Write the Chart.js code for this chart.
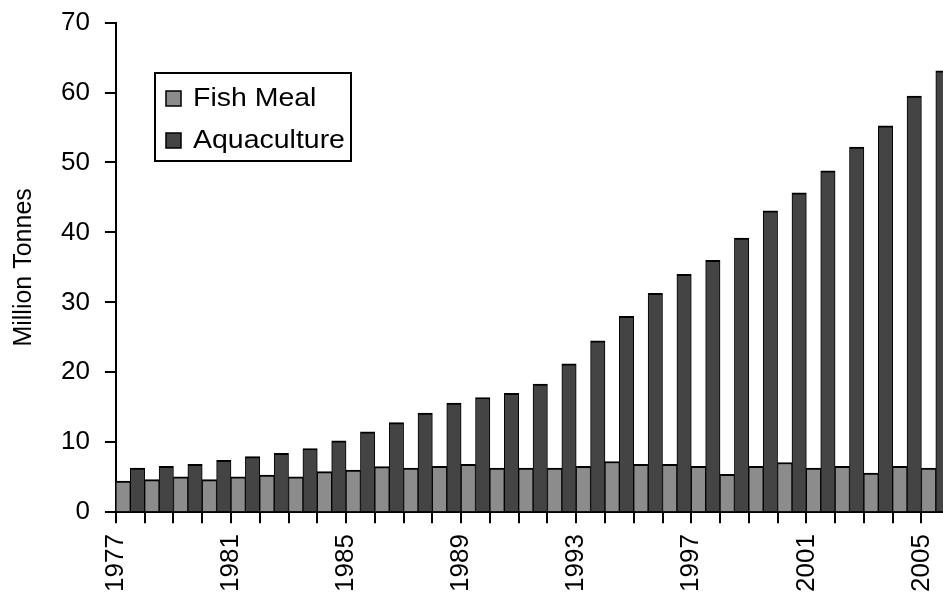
<!DOCTYPE html>
<html>
<head>
<meta charset="utf-8">
<script src="https://cdn.jsdelivr.net/npm/chart.js@4.4.1/dist/chart.umd.min.js"></script>
<style>
  html, body { margin: 0; padding: 0; background: #fff; overflow: hidden; }
  #wrap { width: 978px; height: 615px; margin-top: -8px; }
</style>
</head>
<body>
<div id="wrap"><canvas id="chart" width="978" height="615"></canvas></div>
<script>
var years = ['1977', '1978', '1979', '1980', '1981', '1982', '1983', '1984', '1985', '1986',
  '1987', '1988', '1989', '1990', '1991', '1992', '1993', '1994', '1995', '1996',
  '1997', '1998', '1999', '2000', '2001', '2002', '2003', '2004', '2005'];
var fishMeal = [4.45, 4.65, 5.05, 4.65, 5.05, 5.3, 5.05, 5.8, 6.0, 6.5,
  6.3, 6.55, 6.85, 6.3, 6.3, 6.3, 6.55, 7.25, 6.85, 6.85,
  6.55, 5.4, 6.55, 7.1, 6.3, 6.55, 5.6, 6.55, 6.3];
var aquaculture = [6.3, 6.55, 6.85, 7.4, 7.95, 8.4, 9.1, 10.2, 11.5, 12.8,
  14.15, 15.6, 16.4, 17.0, 18.3, 21.2, 24.5, 28.0, 31.3, 34.0,
  36.0, 39.2, 43.1, 45.65, 48.8, 52.2, 55.25, 59.5, 63.1];
var yMax = 70;
var yStep = 10;

var light = '#8c8c8c';
var dark = '#444444';
var fontFam = '"Liberation Sans", Arial, sans-serif';

// legend drawn as a boxed panel inside the plot, like the original
// (canvas sits 8px higher than the page, hence the +8)
var boxLegend = {
  id: 'boxLegend',
  afterDraw: function(chart) {
    var ctx = chart.ctx;
    var x0 = 155, y0 = 73 + 8, w = 196, h = 88;
    ctx.save();
    ctx.fillStyle = '#fff';
    ctx.fillRect(x0, y0, w, h);
    ctx.lineWidth = 2;
    ctx.strokeStyle = '#000';
    ctx.strokeRect(x0, y0, w, h);
    ctx.font = '26px ' + fontFam;
    ctx.textBaseline = 'middle';
    chart.data.datasets.forEach(function(ds, i) {
      var cy = y0 + 25 + i * 42;
      ctx.fillStyle = ds.backgroundColor;
      ctx.fillRect(x0 + 11, cy - 7, 15, 15);
      ctx.lineWidth = 1.5;
      ctx.strokeRect(x0 + 11, cy - 7, 15, 15);
      ctx.fillStyle = '#000';
      // original text is a bit wider than the face we have
      ctx.save();
      ctx.translate(x0 + 38, cy + 1);
      ctx.scale(1.095, 1);
      ctx.fillText(ds.label, 0, 0);
      ctx.restore();
    });
    ctx.restore();
  }
};

new Chart(document.getElementById('chart').getContext('2d'), {
  type: 'bar',
  data: {
    labels: years,
    datasets: [
      { label: 'Fish Meal', data: fishMeal, backgroundColor: light, borderColor: '#000',
        borderWidth: { top: 2, left: 1, right: 1, bottom: 0 }, borderSkipped: 'start',
        categoryPercentage: 1.0, barPercentage: 1.0 },
      { label: 'Aquaculture', data: aquaculture, backgroundColor: dark, borderColor: '#000',
        borderWidth: { top: 2, left: 1, right: 1, bottom: 0 }, borderSkipped: 'start',
        categoryPercentage: 1.0, barPercentage: 1.0 }
    ]
  },
  options: {
    responsive: false,
    animation: false,
    layout: { padding: { left: 12, right: 0, top: 2, bottom: 4 } },
    plugins: { legend: { display: false }, tooltip: { enabled: false } },
    scales: {
      x: {
        offset: true,
        grid: { offset: true, drawOnChartArea: false, drawTicks: true, tickLength: 11, color: '#000', lineWidth: 2 },
        border: { color: '#000', width: 2 },
        ticks: {
          autoSkip: false, maxRotation: 90, minRotation: 90, labelOffset: -14.4, padding: 11,
          color: '#000', font: { family: fontFam, size: 26 },
          callback: function(v, i) { return i % 4 === 0 ? this.getLabelForValue(v) : ''; }
        }
      },
      y: {
        min: 0, max: yMax,
        grid: { drawOnChartArea: false, drawTicks: true, tickLength: 11, color: '#000', lineWidth: 2 },
        border: { color: '#000', width: 2 },
        ticks: { stepSize: yStep, padding: 15, color: '#000', font: { family: fontFam, size: 26 } },
        title: { display: true, text: 'Million Tonnes', color: '#000', padding: { top: 0, bottom: 9 },
          font: { family: fontFam, size: 25, lineHeight: 1 } }
      }
    }
  },
  plugins: [boxLegend]
});
</script>
</body>
</html>
